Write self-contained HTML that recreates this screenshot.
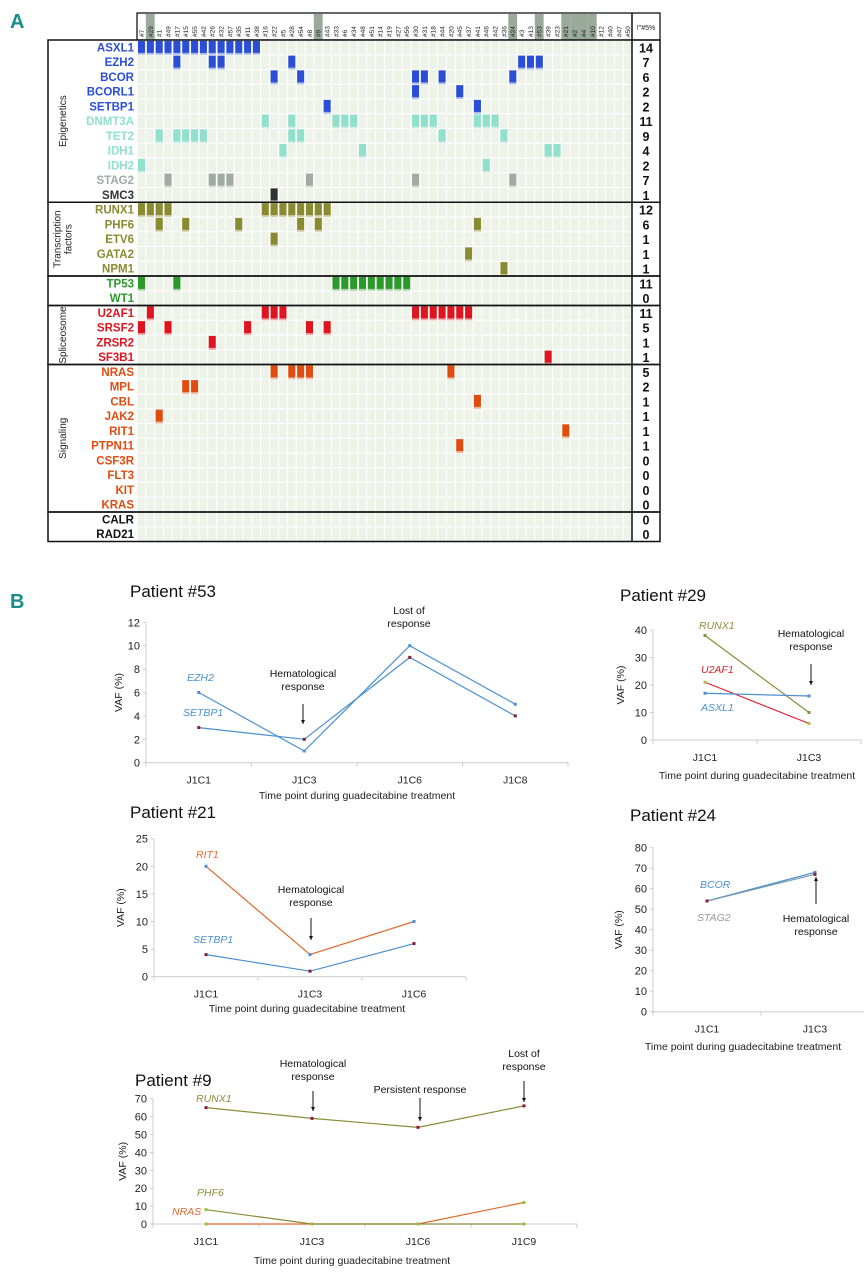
<!DOCTYPE html>
<html><head><meta charset="utf-8"><style>
html,body{margin:0;padding:0;background:#fff;}
svg{display:block;font-family:"Liberation Sans",sans-serif;}
</style></head><body>
<svg id="fig" width="864" height="1280" viewBox="0 0 864 1280">
<text x="10" y="28" font-size="20" font-weight="bold" fill="#1a8c8c">A</text>
<text x="10" y="608" font-size="20" font-weight="bold" fill="#1a8c8c">B</text>
<g id="heat"></g>
<g id="charts"></g>
</svg>
<script>
// ---------- Panel A data ----------
const patients=['#7','#29','#1','#49','#17','#15','#55','#42','#26','#32','#57','#35','#11','#38','#16','#22','#5','#28','#54','#8','#9','#43','#33','#6','#34','#48','#51','#14','#19','#27','#56','#30','#31','#18','#44','#20','#45','#37','#41','#46','#42','#36','#24','#3','#13','#53','#39','#23','#21','#2','#4','#10','#12','#40','#47','#50'];
const highlighted=[1,20,42,45,48,49,50,51];
const genes=['ASXL1','EZH2','BCOR','BCORL1','SETBP1','DNMT3A','TET2','IDH1','IDH2','STAG2','SMC3','RUNX1','PHF6','ETV6','GATA2','NPM1','TP53','WT1','U2AF1','SRSF2','ZRSR2','SF3B1','NRAS','MPL','CBL','JAK2','RIT1','PTPN11','CSF3R','FLT3','KIT','KRAS','CALR','RAD21'];
const geneCounts=[14,7,6,2,2,11,9,4,2,7,1,12,6,1,1,1,11,0,11,5,1,1,5,2,1,1,1,1,0,0,0,0,0,0];
const mutations=[
[0,1,2,3,4,5,6,7,8,9,10,11,12,13],[4,8,9,17,43,44,45],[15,18,31,32,34,42],[31,36],[21,38],
[14,17,22,23,24,31,32,33,38,39,40],[2,4,5,6,7,17,18,34,41],[16,25,46,47],[0,39],[3,8,9,10,19,31,42],[15],
[0,1,2,3,14,15,16,17,18,19,20,21],[2,5,11,18,20,38],[15],[37],[41],
[0,4,22,23,24,25,26,27,28,29,30],[],
[1,14,15,16,31,32,33,34,35,36,37],[0,3,12,19,21],[8],[46],
[15,17,18,19,35],[5,6],[38],[2],[48],[36],[],[],[],[],[],[]];
const geneColors=['#2a4fd6','#2a4fd6','#2a4fd6','#2a4fd6','#2a4fd6','#8fe0cc','#8fe0cc','#8fe0cc','#8fe0cc','#a2aaa4','#333','#8a8a30','#8a8a30','#8a8a30','#8a8a30','#8a8a30','#2a9a2a','#2a9a2a','#e0141e','#e0141e','#e0141e','#e0141e','#e04c10','#e04c10','#e04c10','#e04c10','#e04c10','#e04c10','#e04c10','#e04c10','#e04c10','#e04c10','#111','#111'];
const groupNames=[['Epigenetics'],['Transcription','factors'],[],['Spliceosome'],['Signaling'],[]];
const groupStarts=[0,11,16,18,22,32];

const NS='http://www.w3.org/2000/svg';
function mk(tag,attrs,parent,txt){const e=document.createElementNS(NS,tag);for(const k in attrs)e.setAttribute(k,attrs[k]);if(txt!==undefined)e.textContent=txt;parent.appendChild(e);return e;}

const heat=document.getElementById('heat');
const gx0=137,cw=8.84,rowTop0=40,rh=14.75;
const gridRight=gx0+cw*patients.length;
const rowY=i=>rowTop0+rh*i;
mk('rect',{x:gx0,y:13,width:660-gx0,height:27,fill:'#fff',stroke:'#000','stroke-width':1.2},heat);
highlighted.forEach(c=>{const r=mk('rect',{x:gx0+c*cw,y:14,width:cw,height:26,fill:'#9aaa9a'},heat);

});
patients.forEach((p,c)=>{const cx=gx0+c*cw+cw/2+2.5;
const t=mk('text',{x:cx,y:37,'font-size':6.5,fill:'#222',transform:`rotate(-90 ${cx} 37)`},heat,p);

});
const hc=mk('text',{x:646,y:30,'font-size':7,'text-anchor':'middle',fill:'#222'},heat,'!"#5%');


mk('rect',{x:gx0,y:rowTop0,width:gridRight-gx0,height:rh*genes.length,fill:'#eef3ea'},heat);
for(let c=0;c<=patients.length;c++)mk('line',{x1:gx0+c*cw,x2:gx0+c*cw,y1:rowTop0,y2:rowY(genes.length),stroke:'#fff','stroke-width':1},heat);
for(let r=0;r<=genes.length;r++)mk('line',{x1:gx0,x2:gridRight,y1:rowY(r),y2:rowY(r),stroke:'#fff','stroke-width':1},heat);
genes.forEach((g,i)=>{
 const cy=rowY(i)+rh/2;
 const t=mk('text',{x:134,y:cy+4,'font-size':11.5,'font-weight':'bold','text-anchor':'end',fill:geneColors[i]},heat,g);
 
 
 const n=mk('text',{x:646,y:cy+5,'font-size':12.5,'font-weight':'bold','text-anchor':'middle',fill:'#111'},heat,String(geneCounts[i]));
 
 
 mutations[i].forEach(c=>{
  const x=gx0+c*cw+1;
  mk('rect',{x:x,y:cy+5,width:cw-1.8,height:2.5,fill:geneColors[i],opacity:0.35},heat);
  const b=mk('rect',{x:x,y:cy-6.5,width:cw-1.8,height:12,fill:geneColors[i]},heat);
  
  
 });
});
const gEnds=groupStarts.slice(1).concat([genes.length]);
groupStarts.forEach((s,k)=>{
 const y1=rowY(s),y2=rowY(gEnds[k]);
 mk('rect',{x:48,y:y1,width:612,height:y2-y1,fill:'none',stroke:'#111','stroke-width':1.5},heat);
 const lines=groupNames[k];const cy=(y1+y2)/2;
 lines.forEach((ln,j)=>{const lx=66+(j-(lines.length-1)/2)*11;
  const t=mk('text',{x:lx,y:cy,'font-size':10,'text-anchor':'middle',fill:'#222',transform:`rotate(-90 ${lx} ${cy})`},heat,ln);
  
  });
});
mk('line',{x1:632,x2:632,y1:13,y2:rowY(genes.length),stroke:'#111','stroke-width':1.5},heat);

// ---------- Panel B data ----------
const p53Cats=['J1C1','J1C3','J1C6','J1C8'];
const p53Ticks=[0,2,4,6,8,10,12];
const p53EZH2=[6,1,10,5];
const p53SETBP1=[3,2,9,4];
const p29Cats=['J1C1','J1C3'];
const p29Ticks=[0,10,20,30,40];
const p29RUNX1=[38,10];
const p29U2AF1=[21,6];
const p29ASXL1=[17,16];
const p21Cats=['J1C1','J1C3','J1C6'];
const p21Ticks=[0,5,10,15,20,25];
const p21RIT1=[20,4,10];
const p21SETBP1=[4,1,6];
const p24Cats=['J1C1','J1C3'];
const p24Ticks=[0,10,20,30,40,50,60,70,80];
const p24BCOR=[54,68];
const p24STAG2=[54,67];
const p9Cats=['J1C1','J1C3','J1C6','J1C9'];
const p9Ticks=[0,10,20,30,40,50,60,70];
const p9RUNX1=[65,59,54,66];
const p9PHF6=[8,0,0,0];
const p9NRAS=[0,0,0,12];

const charts=document.getElementById('charts');
const BLUE='#4a90d0',OLIVE='#8c8c3c',RED='#e02030',ORANGE='#e06a30',GREY='#999',MAROON='#8a1a3a';
function chart(o){
 const g=mk('g',{},charts);
 
 
 const n=o.cats.length,band=(o.right-o.left)/n;
 const ymax=o.ticks[o.ticks.length-1];
 const X=i=>o.left+(i+0.5)*band;
 const Y=v=>o.y0-(v/ymax)*(o.y0-o.ytop);
 const tt=mk('text',{x:o.tx,y:o.ty,'font-size':17,fill:'#111'},g,o.title);
 
 
 mk('line',{x1:o.left,x2:o.left,y1:o.ytop,y2:o.y0,stroke:'#ccc'},g);
 mk('line',{x1:o.left,x2:o.right,y1:o.y0,y2:o.y0,stroke:'#ccc'},g);
 for(let i=0;i<=n;i++)mk('line',{x1:o.left+i*band,x2:o.left+i*band,y1:o.y0,y2:o.y0+4,stroke:'#ccc'},g);
 o.ticks.forEach(t=>{mk('line',{x1:o.left-3,x2:o.left,y1:Y(t),y2:Y(t),stroke:'#ccc'},g);
  const l=mk('text',{x:o.left-6,y:Y(t)+4,'font-size':11,'text-anchor':'end',fill:'#222'},g,String(t));
  
  });
 o.cats.forEach((c,i)=>{const l=mk('text',{x:X(i),y:o.y0+21,'font-size':10.5,'text-anchor':'middle',fill:'#222'},g,c);
  
  });
 const yt=mk('text',{x:o.yx,y:(o.y0+o.ytop)/2,'font-size':10.5,'text-anchor':'middle',fill:'#222',transform:`rotate(-90 ${o.yx} ${(o.y0+o.ytop)/2})`},g,'VAF (%)');
 
 
 const xt=mk('text',{x:o.xtx,y:o.xty,'font-size':10.5,'text-anchor':'middle',fill:'#222'},g,'Time point during guadecitabine treatment');
 
 
 o.series.forEach(s=>{
  const pts=s.vals.map((v,i)=>X(i)+','+Y(v)).join(' ');
  const pl=mk('polyline',{points:pts,fill:'none',stroke:s.color,'stroke-width':1.2},g);
  
  
  s.vals.forEach((v,i)=>{const m=mk('rect',{x:X(i)-1.5,y:Y(v)-1.5,width:3,height:3,fill:s.marker},g);
   
   });
 });
 o.labels.forEach(l=>{const t=mk('text',{x:l[0],y:l[1],'font-size':10.5,'font-style':'italic',fill:l[3]},g,l[2]);
  
  });
 o.notes.forEach(a=>{
  a.lines.forEach((ln,j)=>{const t=mk('text',{x:a.x,y:a.y+j*13,'font-size':10.5,'text-anchor':'middle',fill:'#111'},g,ln);
   
   });
  if(a.a1===a.a2)return;
  mk('line',{x1:a.x,x2:a.x,y1:a.a1,y2:a.a2,stroke:'#111','stroke-width':1},g);
  const d=a.a2>a.a1?-1:1;
  mk('polygon',{points:`${a.x-2},${a.a2+d*4} ${a.x+2},${a.a2+d*4} ${a.x},${a.a2}`,fill:'#111'},g);
 });
}
chart({name:'patient-53-chart',title:'Patient #53',tx:130,ty:597,left:146,right:568,y0:762.7,ytop:622.3,cats:p53Cats,ticks:p53Ticks,yx:122,xtx:357,xty:799,
 series:[{vals:p53EZH2,color:BLUE,marker:BLUE},{vals:p53SETBP1,color:BLUE,marker:MAROON}],
 labels:[[187,681,'EZH2',BLUE],[183,716,'SETBP1',BLUE]],
 notes:[{x:303,y:677,lines:['Hematological','response'],a1:704,a2:724},{x:409,y:614,lines:['Lost of','response'],a1:0,a2:0}]});
chart({name:'patient-29-chart',title:'Patient #29',tx:620,ty:601,left:653,right:861,y0:740,ytop:630,cats:p29Cats,ticks:p29Ticks,yx:624,xtx:757,xty:779,
 series:[{vals:p29RUNX1,color:OLIVE,marker:OLIVE},{vals:p29U2AF1,color:RED,marker:'#b0c040'},{vals:p29ASXL1,color:BLUE,marker:BLUE}],
 labels:[[699,629,'RUNX1',OLIVE],[701,673,'U2AF1',RED],[701,711,'ASXL1',BLUE]],
 notes:[{x:811,y:637,lines:['Hematological','response'],a1:664,a2:685}]});
chart({name:'patient-21-chart',title:'Patient #21',tx:130,ty:818,left:154,right:466,y0:976.7,ytop:838.7,cats:p21Cats,ticks:p21Ticks,yx:124,xtx:307,xty:1012,
 series:[{vals:p21RIT1,color:ORANGE,marker:BLUE},{vals:p21SETBP1,color:BLUE,marker:MAROON}],
 labels:[[196,858,'RIT1',ORANGE],[193,943,'SETBP1',BLUE]],
 notes:[{x:311,y:893,lines:['Hematological','response'],a1:918,a2:940}]});
chart({name:'patient-24-chart',title:'Patient #24',tx:630,ty:821,left:653,right:869,y0:1011.7,ytop:847.7,cats:p24Cats,ticks:p24Ticks,yx:622,xtx:743,xty:1050,
 series:[{vals:p24BCOR,color:BLUE,marker:BLUE},{vals:p24STAG2,color:'#7a9aaa',marker:MAROON}],
 labels:[[700,888,'BCOR',BLUE],[697,921,'STAG2',GREY]],
 notes:[{x:816,y:922,lines:['Hematological','response'],a1:904,a2:877}]});
chart({name:'patient-9-chart',title:'Patient #9',tx:135,ty:1086,left:153,right:577,y0:1224,ytop:1098.7,cats:p9Cats,ticks:p9Ticks,yx:126,xtx:352,xty:1264,
 series:[{vals:p9NRAS,color:ORANGE,marker:'#9ac040'},{vals:p9PHF6,color:OLIVE,marker:'#9ac040'},{vals:p9RUNX1,color:OLIVE,marker:MAROON}],
 labels:[[196,1102,'RUNX1',OLIVE],[197,1196,'PHF6',OLIVE],[172,1215,'NRAS',ORANGE]],
 notes:[{x:313,y:1067,lines:['Hematological','response'],a1:1091,a2:1111},{x:420,y:1093,lines:['Persistent response'],a1:1098,a2:1121},{x:524,y:1057,lines:['Lost of','response'],a1:1081,a2:1102}]});
</script>
</body></html>
